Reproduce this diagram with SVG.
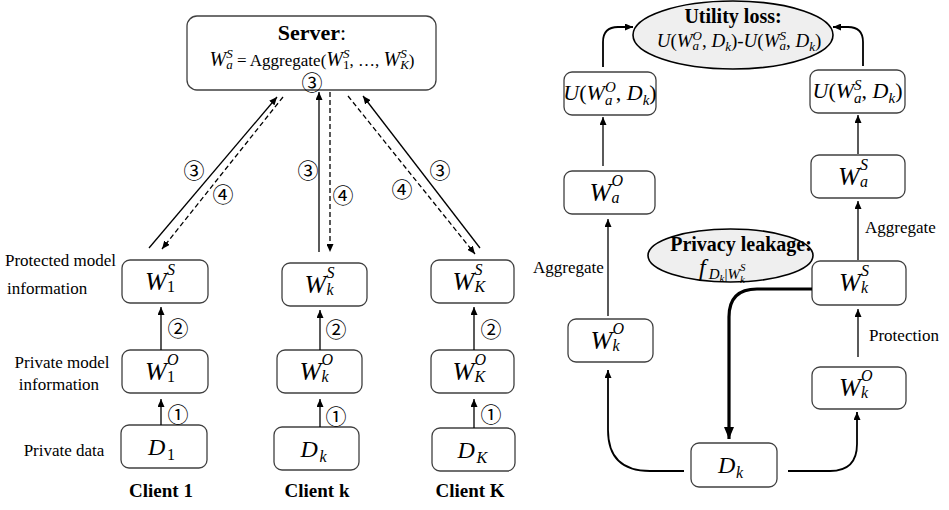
<svg xmlns="http://www.w3.org/2000/svg" width="949" height="510" viewBox="0 0 949 510">
<defs>
<marker id="ah" markerUnits="userSpaceOnUse" markerWidth="8" markerHeight="7" refX="8" refY="3.5" orient="auto"><path d="M0,0 L8,3.5 L0,7 z" fill="#000"/></marker>
<marker id="ahb" markerUnits="userSpaceOnUse" markerWidth="12" markerHeight="10" refX="12" refY="5" orient="auto"><path d="M0,0 L12,5 L0,10 z" fill="#000"/></marker>
<style>
.box{fill:#fff;stroke:#404040;stroke-width:1.3}
.ell{fill:#efefef;stroke:#000;stroke-width:1.6}
.ln{fill:none;stroke:#000;stroke-width:1.3}
.ln2{fill:none;stroke:#000;stroke-width:1.8}
.thick{fill:none;stroke:#000;stroke-width:3.2}
.dash{stroke-dasharray:5 3}
text{font-family:"Liberation Serif","Times New Roman",serif;fill:#000}
.t{font-size:17px}
.b{font-weight:bold}
.i{font-style:italic}
.r{font-style:normal}
.n{font-family:"Noto Sans CJK SC","DejaVu Sans",sans-serif;font-size:21px;text-anchor:middle;dominant-baseline:central;fill:#000}
</style>
</defs>

<!-- Server -->
<g id="server">
<rect class="box" x="187" y="16" width="249" height="74" rx="10"/>
<text class="b" x="312" y="40" font-size="22" text-anchor="middle">Server<tspan font-weight="normal">:</tspan></text>
<text x="312" y="66" font-size="17" text-anchor="middle"><tspan class="i" font-size="20">W</tspan><tspan class="i" font-size="13" dy="-8">S</tspan><tspan class="i" font-size="13" dx="-6.5" dy="11">a</tspan><tspan dy="-3"> = Aggregate(</tspan><tspan class="i" font-size="20">W</tspan><tspan class="i" font-size="13" dy="-8">S</tspan><tspan font-size="13" dx="-6.5" dy="11">1</tspan><tspan dy="-3">, …, </tspan><tspan class="i" font-size="20">W</tspan><tspan class="i" font-size="13" dy="-8">S</tspan><tspan class="i" font-size="13" dx="-6.5" dy="11">K</tspan><tspan dy="-3">)</tspan></text>
<text class="n" x="312" y="81" font-size="19">③</text>
</g>

<!-- Client 1 -->
<g id="c1-s"><rect class="box" x="122" y="260" width="86" height="43" rx="8"/>
<text class="i"><tspan x="145" y="289.5" font-size="26">W</tspan><tspan x="167" y="274.5" font-size="16">S</tspan><tspan class="r" x="167" y="291.5" font-size="16">1</tspan></text></g>
<g id="c1-o"><rect class="box" x="122" y="350" width="86" height="43" rx="8"/>
<text class="i"><tspan x="145" y="379.5" font-size="26">W</tspan><tspan x="167" y="364.5" font-size="16">O</tspan><tspan class="r" x="167" y="381.5" font-size="16">1</tspan></text></g>
<g id="c1-d"><rect class="box" x="121" y="425" width="86" height="43" rx="8"/>
<text class="i"><tspan x="148" y="454.5" font-size="24">D</tspan><tspan class="r" x="167" y="459.5" font-size="16">1</tspan></text></g>

<!-- Client k -->
<g id="ck-s"><rect class="box" x="282" y="263" width="85" height="43" rx="8"/>
<text class="i"><tspan x="304.5" y="292.5" font-size="26">W</tspan><tspan x="326.5" y="277.5" font-size="16">S</tspan><tspan x="326.5" y="294.5" font-size="16">k</tspan></text></g>
<g id="ck-o"><rect class="box" x="277" y="350" width="85" height="43" rx="8"/>
<text class="i"><tspan x="299.5" y="379.5" font-size="26">W</tspan><tspan x="321.5" y="364.5" font-size="16">O</tspan><tspan x="321.5" y="381.5" font-size="16">k</tspan></text></g>
<g id="ck-d"><rect class="box" x="274" y="427" width="85" height="43" rx="8"/>
<text class="i"><tspan x="300.5" y="456.5" font-size="24">D</tspan><tspan x="319.5" y="461.5" font-size="16">k</tspan></text></g>

<!-- Client K -->
<g id="cK-s"><rect class="box" x="431" y="260" width="83" height="43" rx="8"/>
<text class="i"><tspan x="452.5" y="289.5" font-size="26">W</tspan><tspan x="474.5" y="274.5" font-size="16">S</tspan><tspan x="474.5" y="291.5" font-size="16">K</tspan></text></g>
<g id="cK-o"><rect class="box" x="431" y="350" width="83" height="43" rx="8"/>
<text class="i"><tspan x="452.5" y="379.5" font-size="26">W</tspan><tspan x="474.5" y="364.5" font-size="16">O</tspan><tspan x="474.5" y="381.5" font-size="16">K</tspan></text></g>
<g id="cK-d"><rect class="box" x="432" y="428" width="83" height="43" rx="8"/>
<text class="i"><tspan x="457.5" y="457.5" font-size="24">D</tspan><tspan x="476.5" y="462.5" font-size="16">K</tspan></text></g>

<!-- Left labels -->
<g id="row-labels">
<text class="t" x="5" y="266">Protected model</text>
<text class="t" x="7" y="294">information</text>
<text class="t" x="62" y="368" text-anchor="middle">Private model</text>
<text class="t" x="59" y="390" text-anchor="middle">information</text>
<text class="t" x="64" y="456" text-anchor="middle">Private data</text>
<text class="b" x="161" y="497" font-size="19" text-anchor="middle">Client 1</text>
<text class="b" x="317" y="497" font-size="19" text-anchor="middle">Client k</text>
<text class="b" x="470" y="497" font-size="19" text-anchor="middle">Client K</text>
</g>

<!-- Right side nodes -->
<g id="utility-loss">
<ellipse class="ell" cx="733" cy="35" rx="100" ry="34"/>
<text class="b" x="733" y="23" font-size="20" text-anchor="middle">Utility loss:</text>
<text class="i" x="739" y="47" font-size="19" text-anchor="middle">U<tspan class="r">(</tspan>W<tspan font-size="13" dy="-7">O</tspan><tspan font-size="13" dx="-9.4" dy="10">a</tspan><tspan class="r" dx="2.9" dy="-3">, </tspan>D<tspan font-size="13" dy="4">k</tspan><tspan class="r" dy="-4">)-</tspan>U<tspan class="r">(</tspan>W<tspan font-size="13" dy="-7">S</tspan><tspan font-size="13" dx="-6.5" dy="10">a</tspan><tspan class="r" dy="-3">, </tspan>D<tspan font-size="13" dy="4">k</tspan><tspan class="r" dy="-4">)</tspan></text>
</g>
<g id="u-o"><rect class="box" x="564" y="72" width="92" height="43" rx="8"/>
<text class="i" x="610" y="100" font-size="22" text-anchor="middle">U<tspan class="r">(</tspan>W<tspan font-size="15" dy="-8">O</tspan><tspan font-size="15" dx="-10.8" dy="13">a</tspan><tspan class="r" dx="3.3" dy="-5">, </tspan>D<tspan font-size="15" dy="5">k</tspan><tspan class="r" dy="-5">)</tspan></text></g>
<g id="u-s"><rect class="box" x="810" y="70" width="95" height="43" rx="8"/>
<text class="i" x="857.5" y="98" font-size="22" text-anchor="middle">U<tspan class="r">(</tspan>W<tspan font-size="15" dy="-8">S</tspan><tspan font-size="15" dx="-7.5" dy="13">a</tspan><tspan class="r" dy="-5">, </tspan>D<tspan font-size="15" dy="5">k</tspan><tspan class="r" dy="-5">)</tspan></text></g>
<g id="wa-o"><rect class="box" x="564" y="171" width="91" height="43" rx="8"/>
<text class="i"><tspan x="589.5" y="200.5" font-size="26">W</tspan><tspan x="611.5" y="185.5" font-size="16">O</tspan><tspan x="611.5" y="202.5" font-size="16">a</tspan></text></g>
<g id="wa-s"><rect class="box" x="811" y="155" width="94" height="43" rx="8"/>
<text class="i"><tspan x="838" y="184.5" font-size="26">W</tspan><tspan x="860" y="169.5" font-size="16">S</tspan><tspan x="860" y="186.5" font-size="16">a</tspan></text></g>
<g id="privacy-leakage">
<ellipse class="ell" cx="730.5" cy="255.5" rx="82.5" ry="26.5"/>
<text class="b" x="741" y="251" font-size="20" text-anchor="middle">Privacy leakage:</text>
<text class="i" x="699" y="275" font-size="24">f<tspan font-size="15" dx="3" dy="4">D</tspan><tspan font-size="11" dy="3">k</tspan><tspan class="r" font-size="15" dy="-3">|</tspan><tspan font-size="15">W</tspan><tspan font-size="11" dy="-8">S</tspan><tspan font-size="11" dx="-5.5" dy="12">k</tspan></text>
</g>
<g id="wk-s"><rect class="box" x="812" y="261" width="94" height="44" rx="8"/>
<text class="i"><tspan x="839" y="291" font-size="26">W</tspan><tspan x="861" y="276" font-size="16">S</tspan><tspan x="861" y="293" font-size="16">k</tspan></text></g>
<g id="wk-o-left"><rect class="box" x="568" y="319" width="85" height="43" rx="8"/>
<text class="i"><tspan x="590.5" y="348.5" font-size="26">W</tspan><tspan x="612.5" y="333.5" font-size="16">O</tspan><tspan x="612.5" y="350.5" font-size="16">k</tspan></text></g>
<g id="wk-o-right"><rect class="box" x="812" y="367" width="94" height="42" rx="8"/>
<text class="i"><tspan x="839" y="396" font-size="26">W</tspan><tspan x="861" y="381" font-size="16">O</tspan><tspan x="861" y="398" font-size="16">k</tspan></text></g>
<g id="dk"><rect class="box" x="691" y="443" width="86" height="44" rx="8"/>
<text class="i"><tspan x="718" y="473" font-size="24">D</tspan><tspan x="736" y="478" font-size="16">k</tspan></text></g>

<!-- Connectors -->
<g id="connectors">
<path class="ln" d="M149 248 L277 97" marker-end="url(#ah)"/>
<path class="ln dash" d="M283 97 L162 249" marker-end="url(#ah)"/>
<path class="ln" d="M319 252 L319 92" marker-end="url(#ah)"/>
<path class="ln dash" d="M330 92 L330 252" marker-end="url(#ah)"/>
<path class="ln" d="M480 248 L363 96" marker-end="url(#ah)"/>
<path class="ln dash" d="M348 96 L475 254" marker-end="url(#ah)"/>
<path class="ln" d="M161 350 L161 307" marker-end="url(#ah)"/>
<path class="ln" d="M161 425 L161 399" marker-end="url(#ah)"/>
<path class="ln" d="M320 350 L320 310" marker-end="url(#ah)"/>
<path class="ln" d="M320 427 L320 399" marker-end="url(#ah)"/>
<path class="ln" d="M474 350 L474 307" marker-end="url(#ah)"/>
<path class="ln" d="M474 428 L474 399" marker-end="url(#ah)"/>
<text class="n" x="194" y="169">③</text>
<text class="n" x="223" y="193">④</text>
<text class="n" x="308" y="169">③</text>
<text class="n" x="343" y="194">④</text>
<text class="n" x="440" y="169">③</text>
<text class="n" x="402" y="188">④</text>
<text class="n" x="178" y="327">②</text>
<text class="n" x="178" y="413">①</text>
<text class="n" x="336" y="328">②</text>
<text class="n" x="336" y="415">①</text>
<text class="n" x="491" y="328">②</text>
<text class="n" x="491" y="413">①</text>

<path class="ln2" d="M603 67 V42 Q603 27 618 27 H633" marker-end="url(#ah)"/>
<path class="ln2" d="M863 66 V42 Q863 27 848 27 H833" marker-end="url(#ah)"/>
<path class="ln" d="M603 166 V117" marker-end="url(#ah)"/>
<path class="ln" d="M858 154 V115" marker-end="url(#ah)"/>
<path class="ln" d="M608 316 V219" marker-end="url(#ah)"/>
<text class="t" x="533" y="273">Aggregate</text>
<path class="ln" d="M858 260 V201" marker-end="url(#ah)"/>
<text class="t" x="865" y="233">Aggregate</text>
<path class="ln" d="M858 357 V309" marker-end="url(#ah)"/>
<text class="t" x="869" y="341">Protection</text>
<path class="thick" d="M812 289 H757 Q729 289 729 317 V439" marker-end="url(#ahb)"/>
<path class="ln2" d="M684 471 H650 Q608 471 608 430 V370" marker-end="url(#ah)"/>
<path class="ln2" d="M788 471 H830 Q857 471 857 444 V412" marker-end="url(#ah)"/>
</g>
</svg>
